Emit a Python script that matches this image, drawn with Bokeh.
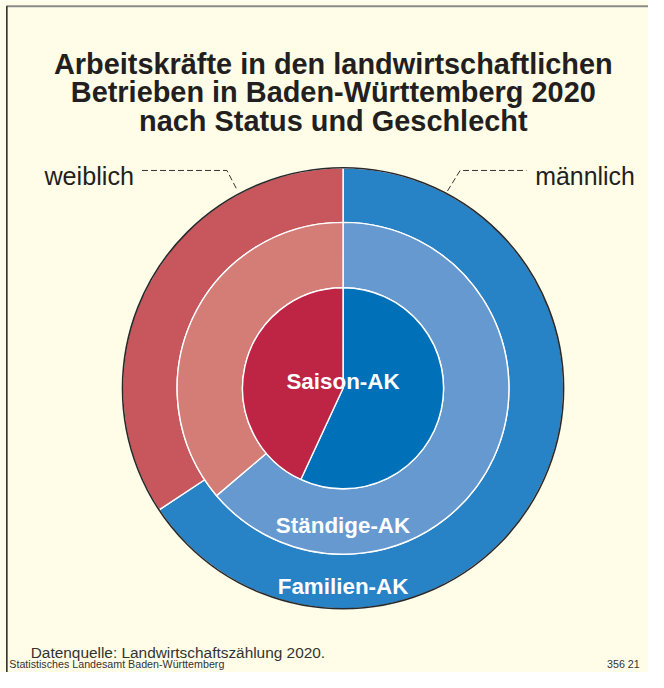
import math
from bokeh.plotting import figure
from bokeh.models import Range1d, ColumnDataSource
from bokeh.core.properties import value
from bokeh.embed import file_html
from bokeh.resources import INLINE

# ---------------- data ----------------
rings = ["Familien-AK", "Ständige-AK", "Saison-AK"]
weiblich = [34.3, 36.2, 43.1]     # share in %
maennlich = [65.7, 63.8, 56.9]    # share in %
title_lines = ["Arbeitskräfte in den landwirtschaftlichen",
               "Betrieben in Baden-Württemberg 2020",
               "nach Status und Geschlecht"]
source_text = "Datenquelle: Landwirtschaftszählung 2020."
office_text = "Statistisches Landesamt Baden-Württemberg"
code_text = "356 21"

# ---------------- styling ----------------
BG = "#FFFDE7"
TXT = "#231F20"
FONT = value("Liberation Sans")
radii = [(170, 226), (103, 170), (0, 103)]
col_m = ["#2882C6", "#6699D0", "#0070B8"]
col_w = ["#C7575C", "#D47D77", "#BE2444"]

RW, RH = 664, 688           # reference coordinate space
W, H = 648, 672             # figure size
S = W / RW                  # scale for font sizes

def fs(px):
    return f"{px * S:.1f}px"

def Y(y):  # reference y (top-down) -> data y
    return RH - y

p = figure(width=W, height=H, x_range=Range1d(0, RW), y_range=Range1d(0, RH),
           output_backend="svg", toolbar_location=None, min_border=0,
           x_axis_type=None, y_axis_type=None,
           background_fill_color=BG, border_fill_color=BG, outline_line_color=None)
p.grid.visible = False

cx, cy = 351, Y(397)
top = math.pi / 2

xs, ys, rin, rout, sa, ea, cols = [], [], [], [], [], [], []
for i in range(len(rings)):
    tot = weiblich[i] + maennlich[i]
    fm = maennlich[i] / tot
    fw = weiblich[i] / tot
    # male: clockwise from top
    xs.append(cx); ys.append(cy); rin.append(radii[i][0]); rout.append(radii[i][1])
    sa.append(top - 2 * math.pi * fm); ea.append(top); cols.append(col_m[i])
    # female: counter-clockwise from top
    xs.append(cx); ys.append(cy); rin.append(radii[i][0]); rout.append(radii[i][1])
    sa.append(top); ea.append(top + 2 * math.pi * fw); cols.append(col_w[i])

src = ColumnDataSource(dict(x=xs, y=ys, ri=rin, ro=rout, sa=sa, ea=ea, c=cols))
p.annular_wedge(x="x", y="y", inner_radius="ri", outer_radius="ro",
                start_angle="sa", end_angle="ea", fill_color="c",
                line_color="white", line_width=1.4, source=src)

# dark outline of the outer ring
p.circle(x=[cx], y=[cy], radius=radii[0][1], fill_color=None,
         line_color="#2a2a2a", line_width=1.6)

# leader lines
p.line(x=[145, 232, 243], y=[Y(174), Y(174), Y(195)], line_color="#333333",
       line_width=1, line_dash="6 3")
p.line(x=[458, 471, 539], y=[Y(195), Y(174), Y(174)], line_color="#333333",
       line_width=1, line_dash="6 3")

# title
p.text(x=[341] * 3, y=[Y(65), Y(94), Y(123)], text=title_lines,
       text_font=FONT, text_font_style="bold", text_font_size=fs(29.6),
       text_align="center", text_baseline="alphabetic", text_color=TXT)

# gender labels
p.text(x=[45], y=[Y(180)], text=["weiblich"], text_font=FONT,
       text_font_size=fs(25.8), text_align="left", text_baseline="alphabetic",
       text_color=TXT)
p.text(x=[548], y=[Y(180)], text=["männlich"], text_font=FONT,
       text_font_size=fs(25.5), text_align="left", text_baseline="alphabetic",
       text_color=TXT)

# ring labels
p.text(x=[351] * 3, y=[Y(600), Y(538), Y(390)], text=rings, text_font=FONT,
       text_font_style="bold", text_font_size=fs(23), text_align="center",
       text_baseline="alphabetic", text_color="white")

# footer
p.text(x=[31], y=[Y(668)], text=[source_text], text_font=FONT,
       text_font_size=fs(15.8), text_align="left", text_baseline="alphabetic",
       text_color="#333333")
p.text(x=[9], y=[Y(679)], text=[office_text], text_font=FONT,
       text_font_size=fs(11), text_align="left", text_baseline="alphabetic",
       text_color="#333333")
p.text(x=[655], y=[Y(679)], text=[code_text], text_font=FONT,
       text_font_size=fs(11), text_align="right", text_baseline="alphabetic",
       text_color="#333333")

# frame lines (top and left)
p.line(x=[6, RW], y=[Y(6), Y(6)], line_color="#8a8a8a", line_width=2)
p.line(x=[6.5, 6.5], y=[Y(6), Y(RH)], line_color="#222222", line_width=1.5)

open("out.html", "w").write(file_html(p, INLINE))
